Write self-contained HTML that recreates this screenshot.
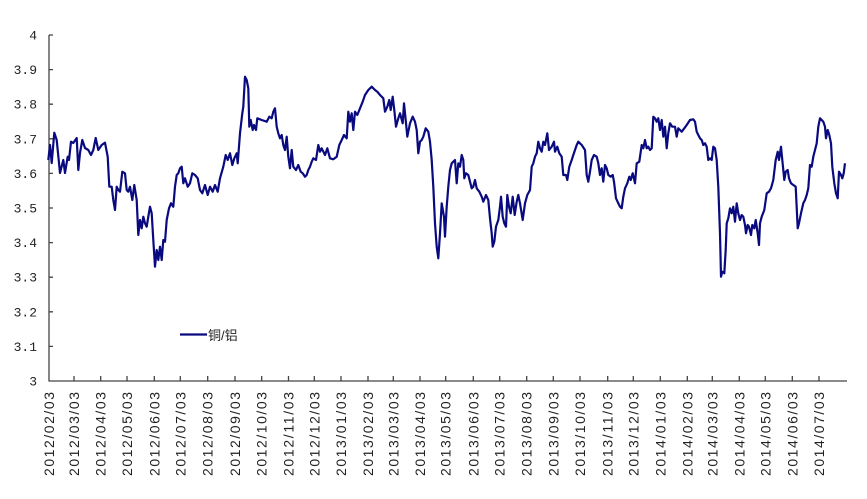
<!DOCTYPE html>
<html><head><meta charset="utf-8"><style>
html,body{margin:0;padding:0;background:#fff;}
svg{display:block;}
</style></head><body>
<svg width="867" height="499" viewBox="0 0 867 499" xmlns="http://www.w3.org/2000/svg">
<rect width="867" height="499" fill="#fff"/>
<g font-family="Liberation Mono, monospace" font-size="13" fill="#222" text-anchor="end">
<text x="37" y="39.5">4</text>
<text x="37" y="74.1">3.9</text>
<text x="37" y="108.7">3.8</text>
<text x="37" y="143.3">3.7</text>
<text x="37" y="177.9">3.6</text>
<text x="37" y="212.5">3.5</text>
<text x="37" y="247.1">3.4</text>
<text x="37" y="281.7">3.3</text>
<text x="37" y="316.3">3.2</text>
<text x="37" y="350.9">3.1</text>
<text x="37" y="385.5">3</text>
</g>
<g stroke="#444" stroke-width="1.3" fill="none">
<line x1="49" y1="35" x2="49" y2="381.5"/>
<line x1="48.5" y1="381" x2="847" y2="381"/>
<path d="M49 35h4M49 69.6h4M49 104.2h4M49 138.8h4M49 173.4h4M49 208h4M49 242.6h4M49 277.2h4M49 311.8h4M49 346.4h4"/>
<path d="M74 381v-5M100.7 381v-5M127 381v-5M154.3 381v-5M180.3 381v-5M207.7 381v-5M235 381v-5M261.7 381v-5M288.5 381v-5M314.3 381v-5M341 381v-5M368 381v-5M393.3 381v-5M420 381v-5M445.7 381v-5M473.3 381v-5M499.7 381v-5M526.7 381v-5M553.3 381v-5M580 381v-5M607.7 381v-5M633.3 381v-5M660.3 381v-5M687.3 381v-5M712.3 381v-5M739.3 381v-5M765.3 381v-5M792.3 381v-5M819 381v-5"/>
</g>
<g font-family="Liberation Sans, sans-serif" font-size="14" fill="#222">
<text transform="translate(54,476) rotate(-90)" textLength="84" lengthAdjust="spacing">2012/02/03</text>
<text transform="translate(79,476) rotate(-90)" textLength="84" lengthAdjust="spacing">2012/03/03</text>
<text transform="translate(105.7,476) rotate(-90)" textLength="84" lengthAdjust="spacing">2012/04/03</text>
<text transform="translate(132,476) rotate(-90)" textLength="84" lengthAdjust="spacing">2012/05/03</text>
<text transform="translate(159.3,476) rotate(-90)" textLength="84" lengthAdjust="spacing">2012/06/03</text>
<text transform="translate(185.3,476) rotate(-90)" textLength="84" lengthAdjust="spacing">2012/07/03</text>
<text transform="translate(212.7,476) rotate(-90)" textLength="84" lengthAdjust="spacing">2012/08/03</text>
<text transform="translate(240,476) rotate(-90)" textLength="84" lengthAdjust="spacing">2012/09/03</text>
<text transform="translate(266.7,476) rotate(-90)" textLength="84" lengthAdjust="spacing">2012/10/03</text>
<text transform="translate(293.5,476) rotate(-90)" textLength="84" lengthAdjust="spacing">2012/11/03</text>
<text transform="translate(319.3,476) rotate(-90)" textLength="84" lengthAdjust="spacing">2012/12/03</text>
<text transform="translate(346,476) rotate(-90)" textLength="84" lengthAdjust="spacing">2013/01/03</text>
<text transform="translate(373,476) rotate(-90)" textLength="84" lengthAdjust="spacing">2013/02/03</text>
<text transform="translate(398.3,476) rotate(-90)" textLength="84" lengthAdjust="spacing">2013/03/03</text>
<text transform="translate(425,476) rotate(-90)" textLength="84" lengthAdjust="spacing">2013/04/03</text>
<text transform="translate(450.7,476) rotate(-90)" textLength="84" lengthAdjust="spacing">2013/05/03</text>
<text transform="translate(478.3,476) rotate(-90)" textLength="84" lengthAdjust="spacing">2013/06/03</text>
<text transform="translate(504.7,476) rotate(-90)" textLength="84" lengthAdjust="spacing">2013/07/03</text>
<text transform="translate(531.7,476) rotate(-90)" textLength="84" lengthAdjust="spacing">2013/08/03</text>
<text transform="translate(558.3,476) rotate(-90)" textLength="84" lengthAdjust="spacing">2013/09/03</text>
<text transform="translate(585,476) rotate(-90)" textLength="84" lengthAdjust="spacing">2013/10/03</text>
<text transform="translate(612.7,476) rotate(-90)" textLength="84" lengthAdjust="spacing">2013/11/03</text>
<text transform="translate(638.3,476) rotate(-90)" textLength="84" lengthAdjust="spacing">2013/12/03</text>
<text transform="translate(665.3,476) rotate(-90)" textLength="84" lengthAdjust="spacing">2014/01/03</text>
<text transform="translate(692.3,476) rotate(-90)" textLength="84" lengthAdjust="spacing">2014/02/03</text>
<text transform="translate(717.3,476) rotate(-90)" textLength="84" lengthAdjust="spacing">2014/03/03</text>
<text transform="translate(744.3,476) rotate(-90)" textLength="84" lengthAdjust="spacing">2014/04/03</text>
<text transform="translate(770.3,476) rotate(-90)" textLength="84" lengthAdjust="spacing">2014/05/03</text>
<text transform="translate(797.3,476) rotate(-90)" textLength="84" lengthAdjust="spacing">2014/06/03</text>
<text transform="translate(824,476) rotate(-90)" textLength="84" lengthAdjust="spacing">2014/07/03</text>
</g>
<polyline fill="none" stroke="#0a0a80" stroke-width="2.2" stroke-linejoin="round" points="
48.3,160 50,145 51.7,163 54.3,132.7 56.7,140 60,173 63.3,160 65,173 67.7,156.7 69,160 71,141.7 73.3,143 76.7,138 78.3,170 80,153 82.3,140 85,148 88.3,150 91,155 93.3,150 95.7,138 98.3,150 101.7,145 105,142.7 107.7,156.7 109.3,186.7 111.7,186.7 113.3,200 115,210 116.7,186.7 118.3,190 120,191.7 122.3,171.7 125,173.3 126.7,190 128.3,191.7 130,186.7 132.3,200 134.3,185 136.7,200 138.3,235 140,220 141.7,228.3 143.3,216.7 145,223.3 146.7,226.7 148.3,216.7 150,206.7 151.7,213.3 153.3,240 155,266.7 156.7,250 158.3,260 160,246.7 161.7,260 163.3,240 165,241.7 166.7,220 169,208.3 171,203.3 173.3,206.7 175,186.7 176.7,175 178.3,173.3 180,168.3 181.7,166.7 183.3,183.3 185,178.3 187.7,186.7 190,183.3 192.3,173.3 195,175 197.7,178.3 200,190 202.3,193.3 205,185 207.7,195 210,186.7 212.7,191.7 215,185 217.7,191.7 220,178.3 223.3,166.7 225.7,155 227.7,160 230,153.3 232.3,165 234.3,158.3 236.7,153.3 237.7,163.3 240,133.3 242.3,113.3 243.3,106.7 245,76.7 246.7,80 248.3,88.3 249.3,126.7 250.7,120 252.7,130 254,125 256,130 257.3,118.3 261.7,120 266.7,121.7 269.3,116.7 271.7,118.3 273.3,111.7 275,108.3 276.7,126.7 278.3,133.3 280,138.3 281.7,135 283.3,145 285,150 286.7,136.7 288.3,156.7 290,168.3 291.7,150 293.3,166.7 296,170 298.3,165 300.7,171.7 302.7,173.3 305,176.7 306.7,175 308.3,170 310,166.7 311.7,161.7 313.3,158.3 316,160 318.3,145 320,151.7 321.7,148.3 325,155 327.3,148.3 330,158.3 333.3,159.3 336.7,156.7 339.3,145 341.7,140 344,135 346.7,138.3 348.3,111.7 350,121.7 351.7,113.3 353.3,130 355,111.7 357.3,115 360,108.3 362.7,101.7 365,95 368.3,90 371.7,86.7 375,90 377.3,91.7 380,95 383.3,98.3 385,111.7 387.3,106.7 389.3,100 390.7,110 392.7,96.7 394.3,110 396,126.7 398.3,118.3 400,113.3 402.7,123.3 404,103.3 405.7,120 407.3,136.7 410,123.3 412.7,116.7 415,121.7 416.7,130 418.3,153.3 420,141.7 421.7,140 423.3,136.7 425.7,128.3 428.3,131.7 430,141.7 431.7,160 433.3,186.7 435,223.3 436.7,246.7 438.3,258.3 440,233.3 441.7,203.3 444,216.7 445,236.7 446.7,206.7 448.3,186.7 450,170 451.7,163.3 453.3,161.7 455,160 456.7,183.3 458.3,163.3 460,166.7 461.7,155 463.3,160 464.3,178.3 466,173.3 468.3,175 470,181.7 471.7,188.3 473.3,186.7 475,180 476.7,188.3 479.3,191.7 481.7,196.7 483.3,201.7 486,195 488.3,200 490,218.3 491.7,233.3 492.7,246.7 494.3,241.7 496,226.7 498.3,220 500,206.7 501,196.7 502.7,216.7 504.3,223.3 506,226.7 507.3,195 509,206.7 510.7,213.3 512.7,196.7 514.7,215 516.7,201.7 518.3,195 520,203.3 522.7,220 525,203.3 527.3,195 530,190 531.7,166.7 533.3,163.3 535,156.7 536.7,153.3 538.3,141.7 540,148.3 541.7,151.7 543.3,141.7 545,145 547.3,133.3 549,150 551.7,146.7 554,141.7 555,151.7 557.3,146.7 559.3,153.3 561.7,156.7 563.3,175 566,175 567.3,180 569.3,166.7 571.7,160 573.3,155 575,150 576.7,145 578.3,141.7 581.7,145 585,150 586.7,175 588.3,181.7 590,171.7 591.7,160 594,155 596.7,156.7 598.3,163.3 600,175 601.7,168.3 603.3,181.7 605,165 606.7,168.3 608.3,175 610.7,176.7 612.7,175 614,181.7 616,198.3 618.3,203.3 620,206.7 621.7,208.3 623.3,196.7 625,188.3 627.3,183.3 629.3,176.7 630.7,180 632.7,173.3 635,183.3 636.7,163.3 639.3,161.7 641.7,145 643.3,148.3 645,140 646.7,148.3 648.3,146.7 650,150 651.7,148.3 653.3,116.7 655,118.3 656.7,121.7 658.3,118.3 660,130 661.7,120 663.3,136.7 665,126.7 666.7,148.3 668.3,133.3 670,123.3 672.3,126.7 675,126.7 676.7,136.7 678.3,128.3 680,130 681.7,131.7 684.3,128.3 686.7,125 690,120 693.3,119.3 695,121.7 696.7,131.7 698.3,135 700,138.3 701.7,140 703.3,145 705,143.3 706.7,146.7 708.3,160 710,158.3 711.7,160 713.3,146.7 715,148.3 716.7,160 718.3,186.7 720,233.3 721,276.7 722.3,271.7 724.3,273.3 725.7,250 726.7,223.3 728.3,218.3 730,208.3 731.7,213.3 733.3,206.7 735,221.7 736.7,203.3 738.3,213.3 740,220 741.7,215 743.3,216.7 745,225 746,233.3 747.7,225 749,226.7 751,235 752.3,225 754.3,228.3 755.7,220 757.7,233.3 759,245 760,223.3 761.7,216.7 764.3,210 766.7,193.3 769,191.7 771,188.3 773.3,180 775.7,160 777.7,151.7 779,160 781,146.7 782.3,160 784.3,180 785.7,171.7 787.7,170 789,178.3 791,183.3 793.3,185 795.7,186.7 797.7,228.3 799,223.3 801,213.3 803.3,203.3 805,200 806.7,195 808.3,188.3 810,165 811.7,166.7 813.3,156.7 815,150 816.7,143.3 818.3,126.7 820,118.3 821.7,120 823.3,121.7 825,126.7 826,138.3 827.7,130 829.3,135 831,143.3 832.3,166.7 834.3,183.3 836,193.3 837.7,198.3 839,171.7 841,175 842.3,178.3 843.7,173.3 845,163.3"/>
<line x1="180" y1="334.5" x2="207" y2="334.5" stroke="#0a0a80" stroke-width="2.2"/>
<text x="208" y="340" font-family="Liberation Sans, Noto Sans CJK SC, sans-serif" font-size="13" fill="#222">铜/铝</text>
</svg>
</body></html>
